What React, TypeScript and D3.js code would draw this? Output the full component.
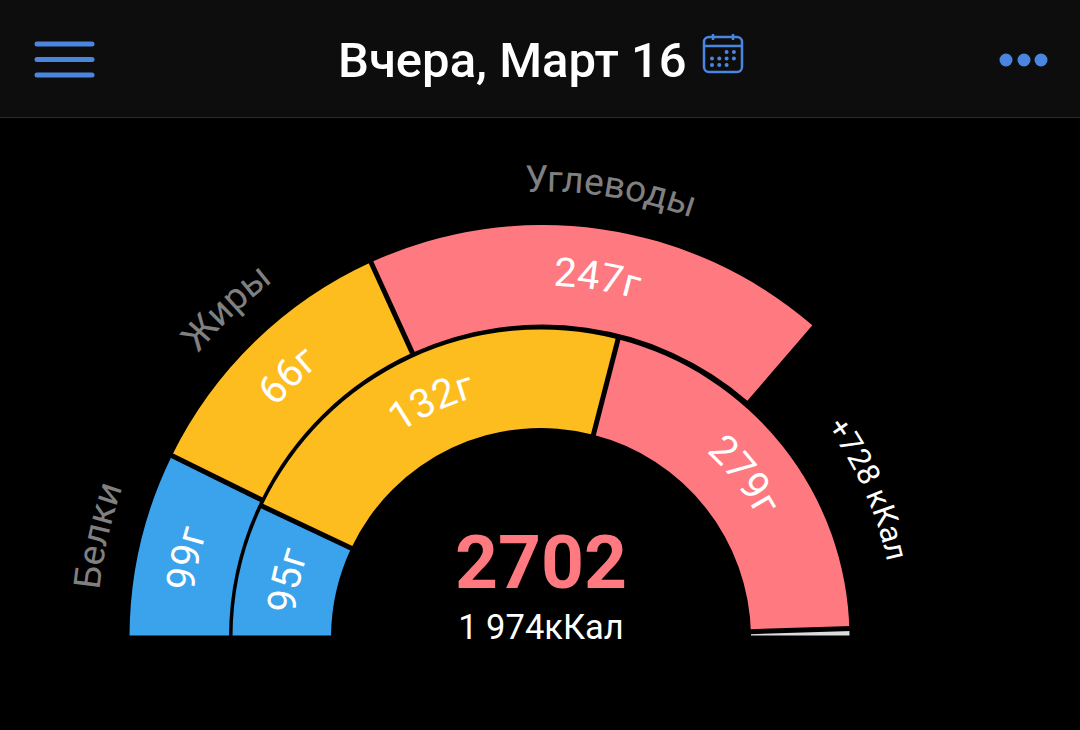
import React from "react";
import * as d3 from "d3";

const macroNames = ["Белки", "Жиры", "Углеводы"];
const macroColors = ["#3aa3ec", "#febd1f", "#ff7a80"];
const kcalPerGram = [4, 9, 4];
const eatenGrams = [95, 132, 279];
const targetGrams = [99, 66, 247];
const eatenTotal = 2702;
const sliverGapKcal = 8;
const targetTotal = "1 974кКал";
const overLabel = "+728 кКал";
const title = "Вчера, Март 16";

const width = 1080;
const height = 730;
const cx = 541;
const cy = 635.5;
const font = "Roboto, sans-serif";

const angle = d3.scaleLinear().domain([0, eatenTotal]).range([-Math.PI / 2, Math.PI / 2]);
// the photo of the screen is a little skewed, the outer ring sits slightly off centre
const outerAngle = d3.scaleLinear().domain([0, 2722]).range([-Math.PI / 2, Math.PI / 2]);
const arc = d3.arc<any>();

function segments(grams: number[]) {
  let sum = 0;
  return grams.map((g, i) => {
    const start = sum;
    sum += g * kcalPerGram[i];
    return { start, end: sum, grams: g, i };
  });
}

// circle used by the curved text, runs clockwise over the top
function textCircle(r: number) {
  const p = d3.path();
  p.arc(cx, cy, r, Math.PI * 0.75, Math.PI * 2.25);
  return p.toString();
}

function CurvedText({ id, text, r, kcal, size, fill, weight = 400, shift = 0 }: any) {
  const offset = r * (angle(kcal) + Math.PI / 2 + Math.PI * 0.25) + shift;
  return (
    <>
      <path id={id} d={textCircle(r)} fill="none" />
      <text fontFamily={font} fontSize={size} fill={fill} fontWeight={weight} textAnchor="middle">
        <textPath href={"#" + id} startOffset={offset}>{text}</textPath>
      </text>
    </>
  );
}

function Ring({ grams, inner, outer, name, labelR, shifts, x0, y0, scale }: any) {
  const segs = segments(grams);
  const total = segs[segs.length - 1].end;
  const isFull = total > targetTotalKcal;
  const sliverStart = total - sliverGapKcal;
  return (
    <g>
      <g clipPath="url(#baseClip)">
        {segs.map((s: any) => (
          <path
            key={s.i}
            transform={`translate(${x0},${y0})`}
            fill={macroColors[s.i]}
            d={arc({ innerRadius: inner, outerRadius: outer, startAngle: scale(s.start), endAngle: scale(s.end) }) as string}
          />
        ))}
        {isFull && (
          <path
            transform={`translate(${x0},${y0})`}
            fill="#dcdcdc"
            d={arc({ innerRadius: inner, outerRadius: outer, startAngle: scale(sliverStart), endAngle: scale(eatenTotal) }) as string}
          />
        )}
      </g>
      {segs.filter((s: any) => s.i > 0 || isFull).map((s: any) => {
        const k = s.i > 0 ? s.start : sliverStart;
        const a = scale(k) - Math.PI / 2;
        return (
          <line
            key={s.i}
            x1={x0 + (inner - 2) * Math.cos(a)}
            y1={y0 + (inner - 2) * Math.sin(a)}
            x2={x0 + (outer + 2) * Math.cos(a)}
            y2={y0 + (outer + 2) * Math.sin(a)}
            stroke="#000"
            strokeWidth={5}
          />
        );
      })}
      {segs.map((s: any) => (
        <CurvedText
          key={s.i}
          id={`${name}-${s.i}`}
          text={s.grams + "г"}
          r={labelR}
          kcal={(s.start + s.end) / 2}
          size={40}
          fill="#fff"
          shift={shifts[s.i]}
        />
      ))}
    </g>
  );
}

const targetTotalKcal = d3.sum(targetGrams, (g, i) => g * kcalPerGram[i]);

function Header() {
  const blue = "#4a86e0";
  const calX = 704;
  const calY = 37;
  const calDots = d3.range(3).flatMap((row) =>
    d3.range(4).filter((col) => !(row === 0 && col < 2) && !(row === 2 && col === 3)).map((col) => [col, row])
  );
  return (
    <g>
      <rect x={0} y={0} width={width} height={117} fill="#0d0d0d" />
      <line x1={0} x2={width} y1={117.5} y2={117.5} stroke="#2a2a2a" strokeWidth={1} />
      {[44, 59.5, 75].map((y) => (
        <line key={y} x1={37} x2={92} y1={y} y2={y} stroke={blue} strokeWidth={5} strokeLinecap="round" />
      ))}
      <text x={338} y={77} fontFamily={font} fontSize={49} fontWeight={500} fill="#fff">{title}</text>
      <g fill="none" stroke={blue} strokeWidth={2.5}>
        <rect x={calX} y={calY} width={38} height={35} rx={5} />
        <line x1={calX} x2={calX + 38} y1={calY + 9} y2={calY + 9} />
        <line x1={calX + 9} x2={calX + 9} y1={calY - 3} y2={calY + 3} />
        <line x1={calX + 29} x2={calX + 29} y1={calY - 3} y2={calY + 3} />
      </g>
      {calDots.map(([c, r]) => (
        <circle key={c + "-" + r} cx={calX + 8 + c * 7.3} cy={calY + 15 + r * 6.5} r={2} fill={blue} />
      ))}
      {[1006, 1024, 1041].map((x) => (
        <circle key={x} cx={x} cy={60} r={6.5} fill={blue} />
      ))}
    </g>
  );
}

export default function App() {
  const targetSegs = segments(targetGrams);
  return (
    <svg width={width} height={height} style={{ position: "absolute", left: 0, top: 0, background: "#000" }}>
      <defs>
        <clipPath id="baseClip"><rect x={0} y={0} width={width} height={cy} /></clipPath>
      </defs>
      <Header />
      <Ring
        grams={targetGrams}
        inner={313.5}
        outer={413}
        name="target"
        labelR={350}
        shifts={[-6, -3, 0]}
        x0={542.5}
        y0={638}
        scale={outerAngle}
      />
      <Ring
        grams={eatenGrams}
        inner={210}
        outer={308.5}
        name="eaten"
        labelR={247}
        shifts={[-2, 0, 0]}
        x0={cx}
        y0={638}
        scale={angle}
      />
      {targetSegs.map((s) => (
        <CurvedText
          key={s.i}
          id={"macro-" + s.i}
          text={macroNames[s.i]}
          r={444}
          kcal={(s.start + s.end) / 2}
          size={37}
          fill="#808080"
          shift={s.i === 0 ? -4 : 0}
        />
      ))}
      <CurvedText id="over" text={overLabel} r={354} kcal={2340} size={31} fill="#fff" />
      <text x={cx} y={588} textAnchor="middle" fontFamily={font} fontWeight={700} fontSize={75} fill={macroColors[2]}>{eatenTotal}</text>
      <text x={cx} y={639} textAnchor="middle" fontFamily={font} fontSize={34.5} fill="#fff">{targetTotal}</text>
    </svg>
  );
}
